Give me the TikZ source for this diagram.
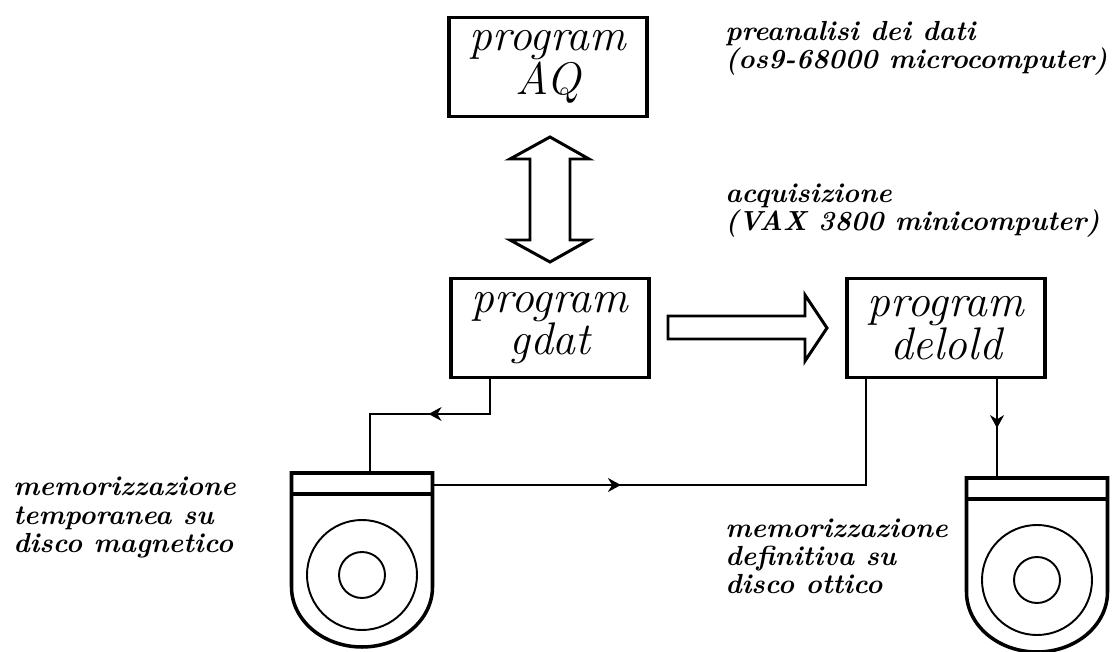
\documentclass[tikz,border=0pt]{standalone}
\usepackage{tikz}
\usetikzlibrary{arrows.meta,decorations.markings}
\tikzset{
  pbox/.style={rectangle,draw,line width=2pt,minimum width=3.95cm,minimum height=1.98cm,inner sep=0pt,align=center,font=\fontsize{26}{21}\selectfont\itshape},
  lab/.style={inner sep=0pt,anchor=north west,align=left,font=\fontsize{15.7}{16}\selectfont\itshape\bfseries},
  fatar/.style={draw,line width=1.7pt,fill=white},
  de/.style={line width=1pt},
  tip/.style={postaction={decorate},decoration={markings,mark=at position #1 with {\arrow{Stealth[length=2.6mm,width=2.8mm]}}}},
  disc/.style={line width=2pt},
  rim/.style={line width=1.1pt}
}
\newcommand{\discunit}[3]{
  \coordinate (#1) at (#2,#3);
  \draw[disc] ([xshift=-1.41cm,yshift=-0.24cm]#1) -- ++(0,2.28) -- ++(2.82,0) -- ++(0,-2.28)
     arc[start angle=0,end angle=-180,x radius=1.41cm,y radius=1.2cm];
  \draw[disc] ([xshift=-1.41cm,yshift=1.62cm]#1) -- ++(2.82,0);
  \draw[rim] (#1) circle (1.1cm);
  \draw[rim] (#1) circle (0.46cm);
}
\begin{document}
\begin{tikzpicture}
\useasboundingbox (0,0) rectangle (22.24,13.04);
\node[pbox] (aq) at (10.96,11.7) {program\\AQ};
\node[pbox] (gdat) at (11,6.48) {program\\gdat};
\node[pbox] (delold) at (18.92,6.48) {program\\delold};
\draw[fatar] (11,10.3) -- (11.78,9.86) -- (11.4,9.86) -- (11.4,8.24) -- (11.78,8.24) -- (11,7.8)
  -- (10.2,8.24) -- (10.6,8.24) -- (10.6,9.86) -- (10.2,9.86) -- cycle;
\draw[fatar] (13.36,6.72) -- (16.1,6.72) -- (16.1,7.14) -- (16.54,6.48) -- (16.1,5.82) -- (16.1,6.26) -- (13.36,6.26) -- cycle;
\discunit{dm}{7.24}{1.54}
\discunit{do}{20.74}{1.44}
\coordinate (dmin) at (7.4,3.58);
\coordinate (dmout) at (8.64,3.34);
\coordinate (doin) at (19.94,3.5);
\coordinate (gdout) at (gdat.south -| 9.8,0);
\coordinate (bend) at (9.8,4.76);
\coordinate (delin) at (delold.south -| 17.32,0);
\coordinate (delout) at (delold.south -| 19.94,0);
\draw[de,tip=0.45] (gdout) -- (bend) -| (dmin);
\draw[de,tip=0.35] (dmout) -| (delin);
\draw[de,tip=0.5] (delout) -- (doin);
\node[lab] (pre) at (14.5,12.63) {preanalisi dei dati\\(os9-68000 microcomputer)};
\node[lab] (acq) at (14.5,9.37) {acquisizione\\(VAX 3800 minicomputer)};
\node[lab] (temp) at (0.26,3.5) {memorizzazione\\temporanea su\\disco magnetico};
\node[lab] (defin) at (14.5,2.67) {memorizzazione\\definitiva su\\disco ottico};
\end{tikzpicture}
\end{document}
